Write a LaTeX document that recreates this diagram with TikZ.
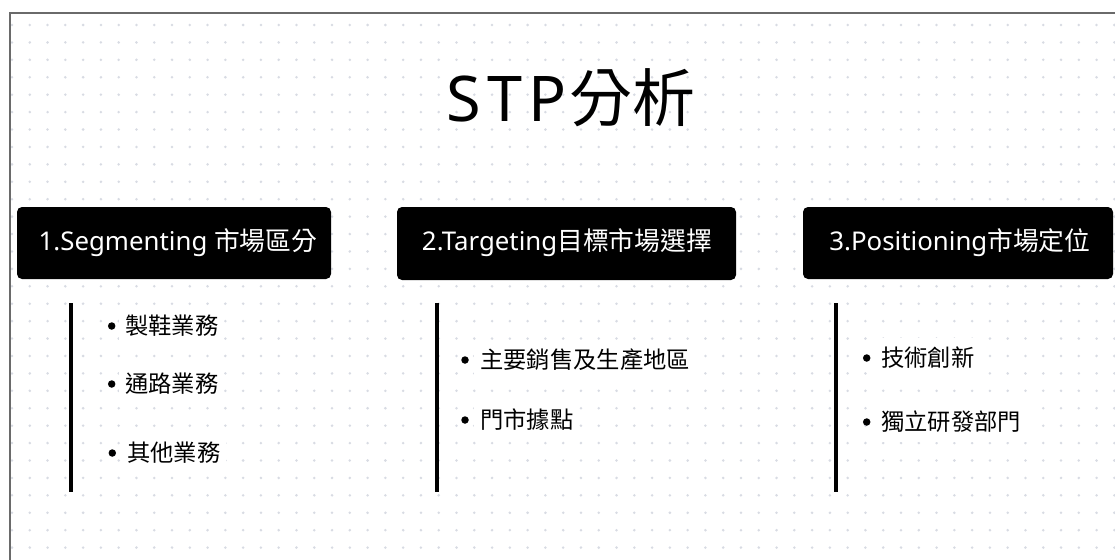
\documentclass[tikz,border=0pt]{standalone}
\usepackage{fontspec}
\setmainfont{Noto Sans}
\newfontfamily\cjk{Noto Sans CJK TC}
\definecolor{dotc}{HTML}{D8DBE3}
\definecolor{framec}{HTML}{6A6A6A}
\tikzset{
  head/.style={fill=black, rounded corners=5pt},
  headtext/.style={text=white, inner sep=0pt, font=\fontsize{25.8}{30}\selectfont},
  item/.style={anchor=west, fill=white, inner xsep=6pt, inner ysep=9pt,
    font=\cjk\fontsize{23.3}{27}\selectfont},
  bul/.style={circle, fill=black, inner sep=0pt, minimum size=7.5pt},
  bar/.style={line width=4pt, black},
}
\begin{document}
\begin{tikzpicture}[x=1pt,y=-1pt]
\useasboundingbox (0,0) rectangle (1115,559);
\fill[white] (0,0) rectangle (1115,559);
% dot grid
\foreach \i in {0,...,62}{
  \foreach \j in {0,...,30}{
    \fill[dotc] ({12+17.78*\i},{25+17.42*\j}) circle (1.4);
  }
}
% frame
\draw[framec, line width=2pt] (10,560) -- (10,13) -- (1116,13);
% title
\node (title) at (571,98) {\fontsize{63}{72}\selectfont S\hspace{6.5pt}T\hspace{6.5pt}P\hspace{3pt}{\cjk 分析}};
% header boxes
\path[head] (17,207) rectangle (331,279);
\node[headtext] (h1) at (178,243) {1.Segmenting {\cjk 市場區分}};
\path[head] (397,207) rectangle (736,280);
\node[headtext] (h2) at (567,243) {2.Targeting{\cjk 目標市場選擇}};
\path[head] (803,207) rectangle (1113,279);
\node[headtext] (h3) at (960,243) {3.Positioning{\cjk 市場定位}};
% bars
\coordinate (b1t) at (71,303); \coordinate (b1b) at (71,492);
\coordinate (b2t) at (437,303); \coordinate (b2b) at (437,492);
\coordinate (b3t) at (836,303); \coordinate (b3b) at (836,492);
\draw[bar] (b1t) -- (b1b);
\draw[bar] (b2t) -- (b2b);
\draw[bar] (b3t) -- (b3b);
% column 1 items
\node[item] (i11) at (119,326) {製鞋業務};
\node[item] (i12) at (119,384) {通路業務};
\node[item] (i13) at (121,453) {其他業務};
\node[bul] (d11) at (111.7,326) {};
\node[bul] (d12) at (111.7,384) {};
\node[bul] (d13) at (112.3,453) {};
% column 2 items
\node[item] (i21) at (474,360) {主要銷售及生產地區};
\node[item] (i22) at (474,420) {門市據點};
\node[bul] (d21) at (465,360) {};
\node[bul] (d22) at (465,420) {};
% column 3 items
\node[item] (i31) at (875,358) {技術創新};
\node[item] (i32) at (875,422) {獨立研發部門};
\node[bul] (d31) at (866.7,358) {};
\node[bul] (d32) at (866.7,422) {};
\end{tikzpicture}
\end{document}
